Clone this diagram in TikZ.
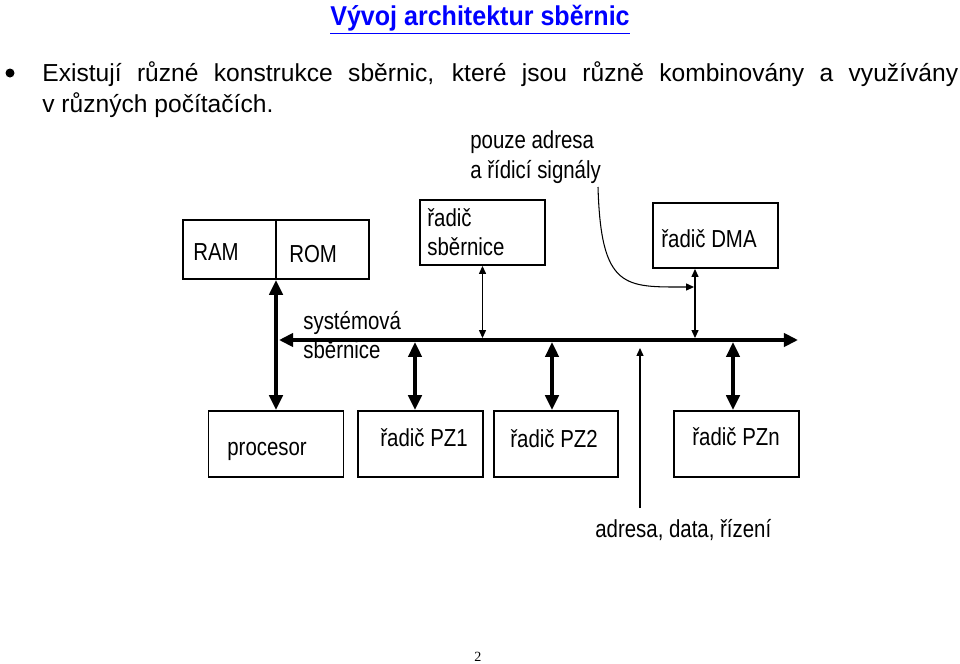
\documentclass[tikz,border=0pt]{standalone}
\usepackage{fontspec}
\setmainfont[FakeStretch=0.83]{Liberation Sans}
\newfontfamily\bodyfont{Liberation Sans}
\newfontfamily\titlefont[FakeStretch=0.92]{Liberation Sans}
\newfontfamily\pagefont{Liberation Serif}
\usetikzlibrary{arrows.meta}
\definecolor{titleblue}{RGB}{0,0,255}
\tikzset{
  box/.style={draw, line width=1.1pt, inner sep=0pt},
  txt/.style={inner sep=0pt, anchor=base west, font=\fontsize{14}{16}\selectfont},
  body/.style={inner sep=0pt, anchor=base west, font=\bodyfont\fontsize{14}{16}\selectfont},
  bus/.style={line width=2.4pt, {Triangle[length=8pt,width=7.5pt]}-{Triangle[length=8pt,width=7.5pt]}},
  fat/.style={line width=2.4pt, {Triangle[length=8.5pt,width=7.5pt]}-{Triangle[length=8.5pt,width=7.5pt]}},
  slim/.style={line width=0.6pt, {Triangle[length=4.5pt,width=4pt]}-{Triangle[length=4.5pt,width=4pt]}}
}

\begin{document}
\begin{tikzpicture}[x=0.02cm, y=-0.02cm]
	\useasboundingbox (0,0) rectangle (960,663);
	% title and text
	\node[inner sep=0pt, anchor=base, text=titleblue, font=\titlefont\fontsize{15.5}{17}\selectfont\bfseries] (title) at (480,25) {\underline{Vývoj architektur sběrnic}};
	\fill (10,73) circle [radius=4.5];
	\node[body] (line1) at (42,81) {\makebox[18.32cm][s]{Existují různé konstrukce sběrnic, které jsou různě kombinovány a využívány}};
	\node[body] (line2) at (42,112) {v různých počítačích.};
	%
	% boxes
	\node[box, minimum width=37.2mm, minimum height=11.8mm] (mem) at (276,249.5) {};
	\draw[line width=0.6pt] (mem.north) -- (mem.south);
	\node[box, minimum width=25mm, minimum height=13mm] (rsb) at (482.5,232.5) {};
	\node[box, minimum width=25mm, minimum height=13mm] (dma) at (715.5,235.5) {};
	\node[box, minimum width=27mm, minimum height=13.2mm] (cpu) at (276,444) {};
	\node[box, minimum width=25mm, minimum height=13.2mm] (pz1) at (420.5,444) {};
	\node[box, minimum width=24.8mm, minimum height=13.2mm] (pz2) at (556,444) {};
	\node[box, minimum width=25mm, minimum height=13.2mm] (pzn) at (736.5,444) {};
	%
	\node[txt] (ram) at (193,260) {RAM};
	\node[txt] (rom) at (289,262) {ROM};
	\node[txt] (rsb1) at (427,226) {řadič};
	\node[txt] (rsb2) at (427,255) {sběrnice};
	\node[txt] (dmatxt) at (661,247) {řadič DMA};
	\node[txt] (cputxt) at (227,455) {procesor};
	\node[txt] (pz1txt) at (380,446) {řadič PZ1};
	\node[txt] (pz2txt) at (510,447) {řadič PZ2};
	\node[txt] (pzntxt) at (692,445) {řadič PZn};
	\node[txt] (sig1) at (470,148) {pouze adresa};
	\node[txt] (sig2) at (470,178) {a řídicí signály};
	\node[txt] (sys1) at (303,329) {systémová};
	\node[txt] (sys2) at (303,358) {sběrnice};
	\node[txt] (adr) at (595,537) {adresa, data, řízení};
	%
	% system bus
	\coordinate (busL) at (279,340);
	\coordinate (busR) at (798,340);
	\draw[bus] (busL) -- (busR);
	\draw[fat] (mem.south) -- (cpu.north);
	\coordinate (t1) at (415,342);
	\coordinate (t2) at (552,342);
	\coordinate (tn) at (733,342);
	\draw[fat] (t1) -- (t1 |- pz1.north);
	\draw[fat] (t2) -- (t2 |- pz2.north);
	\draw[fat] (tn) -- (tn |- pzn.north);
	%
	% thin lines
	\coordinate (d1) at (695,338);
	\draw[slim] (rsb.south) -- (rsb.south |- d1);
	\draw[slim] (d1 |- dma.south) -- (d1);
	\coordinate (sigend) at (598,187);
	\coordinate (dmain) at (694,287);
	\draw[line width=0.6pt, -{Triangle[length=4.5pt,width=4pt]}] (sigend) .. controls (601,290) and (625,287) .. (dmain);
	\coordinate (a1) at (640,348);
	\coordinate (a2) at (640,508);
	\draw[line width=0.6pt, -{Triangle[length=4.5pt,width=4pt]}] (a2) -- (a1);
	%
	\node[inner sep=0pt, anchor=base, font=\pagefont\fontsize{8}{10}\selectfont] (page) at (478,661) {2};
\end{tikzpicture}
\end{document}
